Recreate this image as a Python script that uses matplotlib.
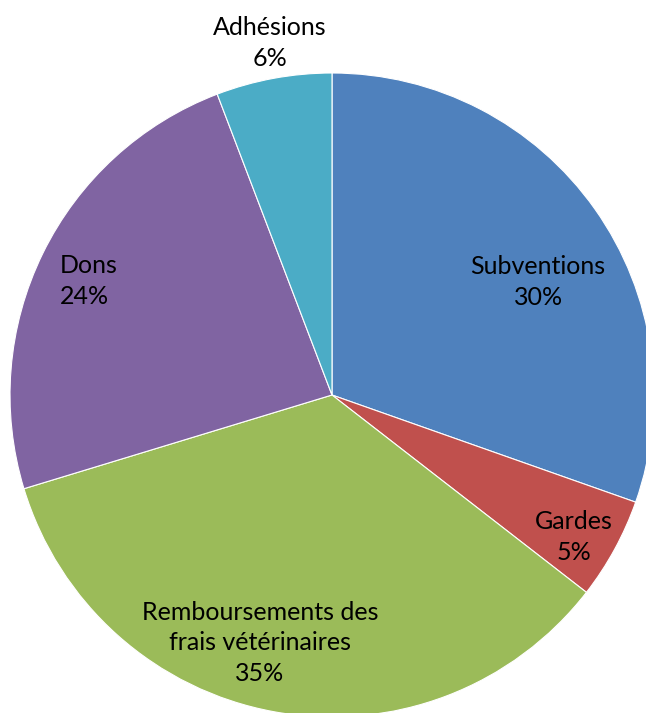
import matplotlib
matplotlib.use("Agg")
import matplotlib.pyplot as plt

categories = ["Subventions", "Gardes", "Remboursements des\nfrais vétérinaires", "Dons", "Adhésions"]
values = [30.4, 5.1, 34.8, 23.9, 5.8]
colors = ["#4F81BD", "#C0504D", "#9BBB59", "#8064A2", "#4BACC6"]

# label placement (data units of the unit pie), like Excel's best fit
label_pos = [(0.64, 0.351), (0.752, -0.441), (-0.224, -0.77), (-0.845, 0.354), (-0.193, 1.093)]
label_ha = ["center", "center", "center", "left", "center"]

plt.rcParams["font.family"] = ["Lato", "DejaVu Sans"]

fig = plt.figure(figsize=(6.46, 7.13), dpi=100)
ax = fig.add_axes([10 / 646, (713 - 395 - 322) / 713, 644 / 646, 644 / 713])

ax.pie(values, colors=colors, startangle=90, counterclock=False,
       wedgeprops=dict(edgecolor="white", linewidth=0.8))
ax.set_xlim(-1, 1)
ax.set_ylim(-1, 1)
ax.set_aspect("equal")
ax.axis("off")

total = sum(values)
for cat, v, (x, y), ha in zip(categories, values, label_pos, label_ha):
    ax.text(x, y, f"{cat}\n{round(100 * v / total)}%", ha=ha, va="center",
            multialignment="center" if ha == "center" else "left",
            fontsize=18, color="black", linespacing=1.4, clip_on=False)

fig.savefig("out.png", dpi=100)
